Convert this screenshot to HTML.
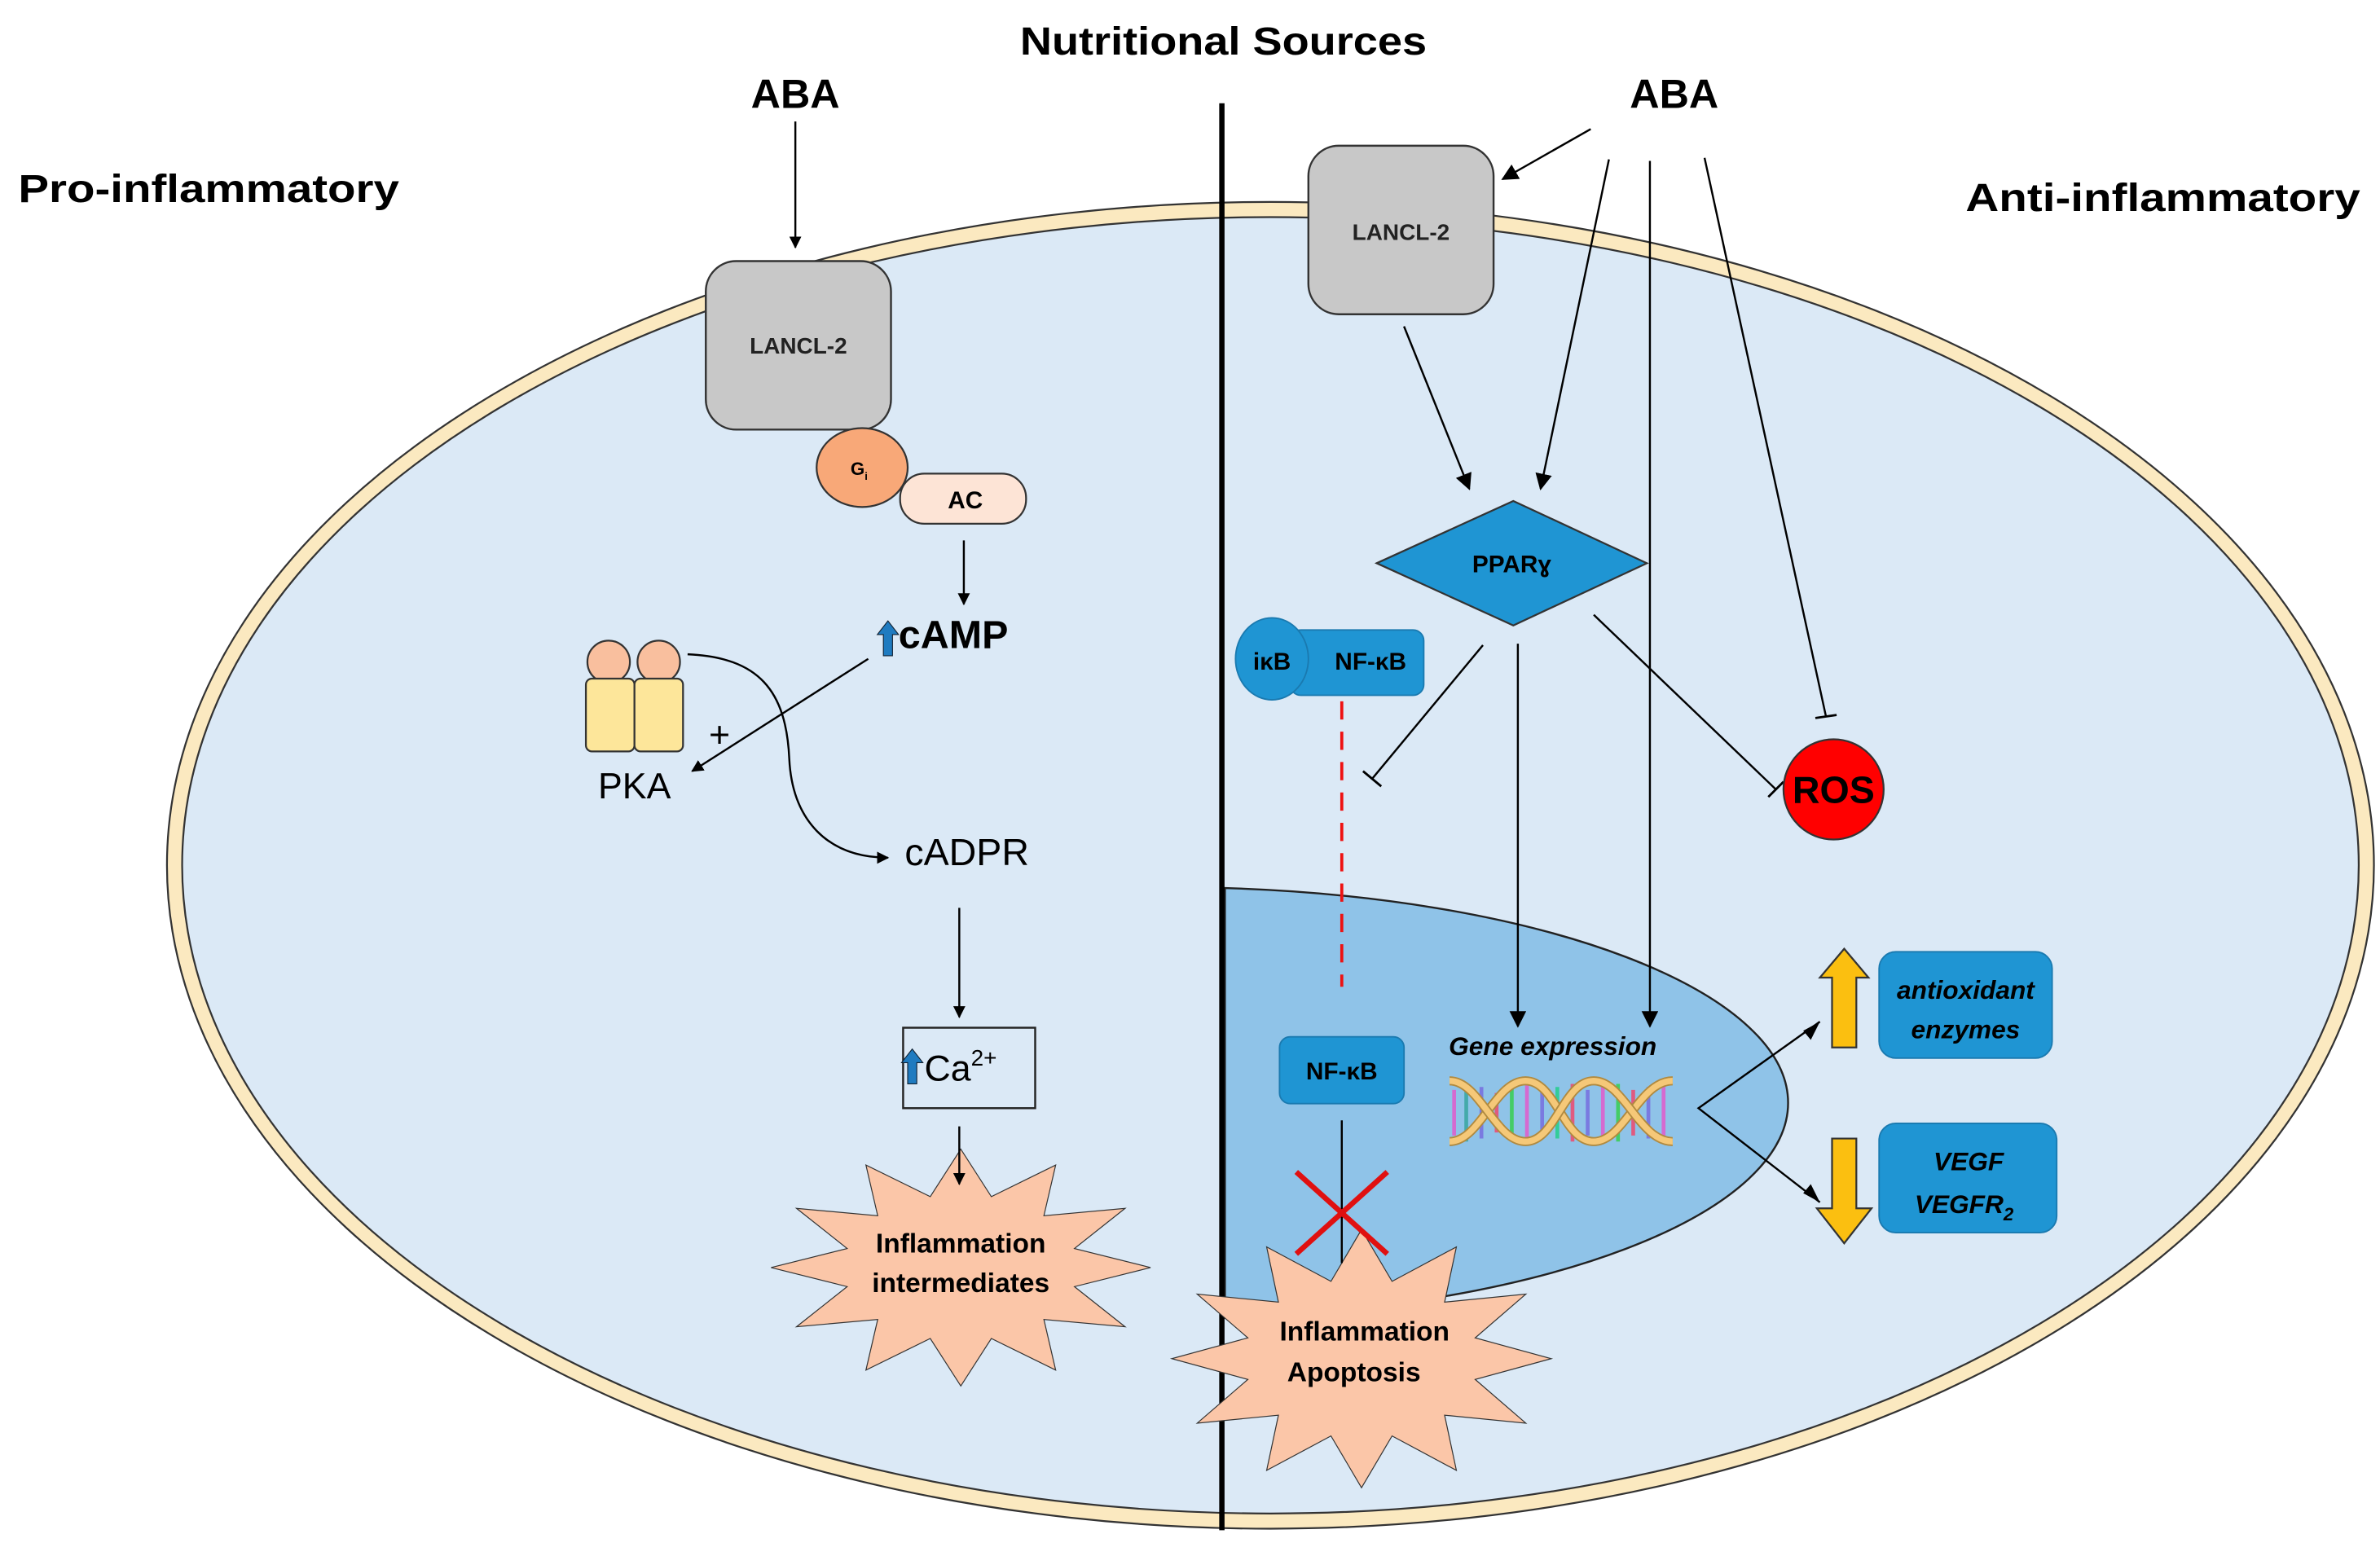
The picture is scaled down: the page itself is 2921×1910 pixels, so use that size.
<!DOCTYPE html>
<html><head><meta charset="utf-8"><style>
html,body{margin:0;padding:0;background:#fff;}
svg{display:block;}
text{font-family:"Liberation Sans","DejaVu Sans",sans-serif;}
</style></head><body>
<svg width="2921" height="1910" viewBox="0 0 1568 1025" preserveAspectRatio="none" xmlns="http://www.w3.org/2000/svg">
<defs>
<marker id="ah" viewBox="0 0 10 10" refX="9" refY="5" markerWidth="8" markerHeight="8" markerUnits="userSpaceOnUse" orient="auto"><path d="M0,0 L10,5 L0,10 z" fill="#000"/></marker>
<marker id="ahb" viewBox="0 0 10 10" refX="9" refY="5" markerWidth="11" markerHeight="11" markerUnits="userSpaceOnUse" orient="auto"><path d="M0,0 L10,5 L0,10 z" fill="#000"/></marker>
</defs>
<rect width="1568" height="1025" fill="#fff"/>
<!-- cell -->
<ellipse cx="837" cy="570" rx="727" ry="437" fill="#fbe9c0" stroke="#333" stroke-width="1.2"/>
<ellipse cx="837" cy="570" rx="717" ry="427" fill="#dbe9f6" stroke="#333" stroke-width="1.2"/>
<!-- nucleus -->
<path d="M807,585 A405,142 0 0 1 807,868 Z" fill="#8fc3e8" stroke="#222" stroke-width="1.3"/>
<!-- divider -->
<line x1="805" y1="68" x2="805" y2="1008" stroke="#000" stroke-width="3.5"/>

<!-- titles -->
<text x="672" y="36" font-size="26" font-weight="bold" textLength="268" lengthAdjust="spacingAndGlyphs">Nutritional Sources</text>
<text x="524" y="71" font-size="27" font-weight="bold" text-anchor="middle">ABA</text>
<text x="1103" y="71" font-size="27" font-weight="bold" text-anchor="middle">ABA</text>
<text x="12" y="133" font-size="26" font-weight="bold" textLength="251" lengthAdjust="spacingAndGlyphs">Pro-inflammatory</text>
<text x="1295" y="139" font-size="26" font-weight="bold" textLength="260" lengthAdjust="spacingAndGlyphs">Anti-inflammatory</text>

<!-- LEFT -->
<line x1="524" y1="80" x2="524" y2="163" stroke="#000" stroke-width="1.3" marker-end="url(#ah)"/>
<rect x="465" y="172" width="122" height="111" rx="20" fill="#c8c8c8" stroke="#333" stroke-width="1.3"/>
<text x="526" y="233" font-size="15" font-weight="bold" text-anchor="middle" fill="#222">LANCL-2</text>
<rect x="593" y="312" width="83" height="33" rx="16" fill="#fde4d6" stroke="#333" stroke-width="1.2"/>
<text x="636" y="335" font-size="16" font-weight="bold" text-anchor="middle">AC</text>
<ellipse cx="568" cy="308" rx="30" ry="26" fill="#f8a878" stroke="#333" stroke-width="1.2"/>
<text x="566" y="313" font-size="12" font-weight="bold" text-anchor="middle">G<tspan font-size="7" dy="3">i</tspan></text>
<line x1="635" y1="356" x2="635" y2="398" stroke="#000" stroke-width="1.3" marker-end="url(#ah)"/>
<path d="M582,432 v-14 h-4 l7,-9 l7,9 h-4 v14 z" fill="#1f7bc0" stroke="#123" stroke-width="0.6"/>
<text x="592" y="427" font-size="26" font-weight="bold">cAMP</text>
<!-- PKA -->
<circle cx="401" cy="436" r="14" fill="#f9bf9e" stroke="#333" stroke-width="1.2"/>
<circle cx="434" cy="436" r="14" fill="#f9bf9e" stroke="#333" stroke-width="1.2"/>
<rect x="386" y="447" width="32" height="48" rx="4" fill="#fde69a" stroke="#333" stroke-width="1.2"/>
<rect x="418" y="447" width="32" height="48" rx="4" fill="#fde69a" stroke="#333" stroke-width="1.2"/>
<text x="418" y="526" font-size="24" text-anchor="middle">PKA</text>
<text x="474" y="492" font-size="24" text-anchor="middle">+</text>
<line x1="572" y1="434" x2="456" y2="508" stroke="#000" stroke-width="1.3" marker-end="url(#ah)"/>
<path d="M453,431 C500,433 518,455 520,500 C522,540 545,565 585,565" fill="none" stroke="#000" stroke-width="1.3" marker-end="url(#ah)"/>
<text x="637" y="570" font-size="25" text-anchor="middle">cADPR</text>
<line x1="632" y1="598" x2="632" y2="670" stroke="#000" stroke-width="1.3" marker-end="url(#ah)"/>
<rect x="595" y="677" width="87" height="53" fill="none" stroke="#222" stroke-width="1.3"/>
<path d="M598,714 v-14 h-4 l7,-9 l7,9 h-4 v14 z" fill="#1f7bc0" stroke="#123" stroke-width="0.6"/>
<text x="609" y="712" font-size="24">Ca<tspan font-size="15" dy="-10">2+</tspan></text>
<g transform="translate(633,835) scale(125,78)">
<polygon points="1,0 .599,.161 .866,.5 .438,.438 .5,.866 .161,.599 0,1 -.161,.599 -.5,.866 -.438,.438 -.866,.5 -.599,.161 -1,0 -.599,-.161 -.866,-.5 -.438,-.438 -.5,-.866 -.161,-.599 0,-1 .161,-.599 .5,-.866 .438,-.438 .866,-.5 .599,-.161" fill="#fbc6a8" stroke="#333" stroke-width="1.2" vector-effect="non-scaling-stroke"/>
</g>
<line x1="632" y1="742" x2="632" y2="780" stroke="#000" stroke-width="1.3" marker-end="url(#ah)"/>
<text x="633" y="825" font-size="18" font-weight="bold" text-anchor="middle">Inflammation</text>
<text x="633" y="851" font-size="18" font-weight="bold" text-anchor="middle">intermediates</text>

<!-- RIGHT -->
<rect x="862" y="96" width="122" height="111" rx="20" fill="#c8c8c8" stroke="#333" stroke-width="1.3"/>
<text x="923" y="158" font-size="15" font-weight="bold" text-anchor="middle" fill="#222">LANCL-2</text>
<line x1="1048" y1="85" x2="990" y2="118" stroke="#000" stroke-width="1.3" marker-end="url(#ahb)"/>
<line x1="1060" y1="105" x2="1015" y2="322" stroke="#000" stroke-width="1.3" marker-end="url(#ahb)"/>
<line x1="925" y1="215" x2="968" y2="322" stroke="#000" stroke-width="1.3" marker-end="url(#ahb)"/>
<line x1="1087" y1="106" x2="1087" y2="676" stroke="#000" stroke-width="1.3" marker-end="url(#ahb)"/>
<line x1="1123" y1="104" x2="1203" y2="472" stroke="#000" stroke-width="1.3"/>
<line x1="1196" y1="473" x2="1210" y2="471" stroke="#000" stroke-width="1.5"/>
<polygon points="907,371 997,330 1085,371 997,412" fill="#1f95d3" stroke="#333" stroke-width="1.2"/>
<text x="996" y="377" font-size="16" font-weight="bold" text-anchor="middle">PPARɣ</text>
<line x1="977" y1="425" x2="904" y2="513" stroke="#000" stroke-width="1.3"/>
<line x1="898" y1="508" x2="910" y2="518" stroke="#000" stroke-width="1.5"/>
<line x1="1000" y1="424" x2="1000" y2="676" stroke="#000" stroke-width="1.3" marker-end="url(#ahb)"/>
<line x1="1050" y1="405" x2="1170" y2="520" stroke="#000" stroke-width="1.3"/>
<line x1="1165" y1="525" x2="1175" y2="515" stroke="#000" stroke-width="1.5"/>
<circle cx="1208" cy="520" r="33" fill="#ff0000" stroke="#333" stroke-width="1.2"/>
<text x="1208" y="529" font-size="25" font-weight="bold" text-anchor="middle">ROS</text>
<!-- IkB NF-kB -->
<rect x="850" y="415" width="88" height="43" rx="7" fill="#1f95d3" stroke="#1a7ab0" stroke-width="1"/>
<ellipse cx="838" cy="434" rx="24" ry="27" fill="#1f95d3" stroke="#1a7ab0" stroke-width="1"/>
<text x="838" y="441" font-size="16" font-weight="bold" text-anchor="middle">iκB</text>
<text x="903" y="441" font-size="16" font-weight="bold" text-anchor="middle">NF-κB</text>
<line x1="884" y1="462" x2="884" y2="650" stroke="#ee1111" stroke-width="2" stroke-dasharray="12,8"/>
<!-- nucleus contents -->
<rect x="843" y="683" width="82" height="44" rx="7" fill="#1f95d3" stroke="#1a7ab0" stroke-width="1"/>
<text x="884" y="711" font-size="16" font-weight="bold" text-anchor="middle">NF-κB</text>
<text x="1023" y="695" font-size="17" font-weight="bold" font-style="italic" text-anchor="middle">Gene expression</text>
<!-- DNA -->
<g stroke-width="2.5">
<line x1="958" y1="718" x2="958" y2="748" stroke="#d56ad0"/><line x1="966" y1="714" x2="966" y2="752" stroke="#4aa"/>
<line x1="976" y1="716" x2="976" y2="750" stroke="#7a7ae0"/><line x1="986" y1="720" x2="986" y2="746" stroke="#e05a80"/>
<line x1="996" y1="716" x2="996" y2="750" stroke="#4c6"/><line x1="1006" y1="714" x2="1006" y2="752" stroke="#d56ad0"/>
<line x1="1016" y1="718" x2="1016" y2="748" stroke="#7a7ae0"/><line x1="1026" y1="716" x2="1026" y2="750" stroke="#3c9"/>
<line x1="1036" y1="714" x2="1036" y2="752" stroke="#e05a80"/><line x1="1046" y1="718" x2="1046" y2="748" stroke="#7a7ae0"/>
<line x1="1056" y1="716" x2="1056" y2="750" stroke="#d56ad0"/><line x1="1066" y1="714" x2="1066" y2="752" stroke="#4c6"/>
<line x1="1076" y1="718" x2="1076" y2="748" stroke="#e05a80"/><line x1="1086" y1="716" x2="1086" y2="750" stroke="#7a7ae0"/>
<line x1="1096" y1="714" x2="1096" y2="750" stroke="#d56ad0"/>
</g>
<path d="M955,752 C975,752 985,712 1005,712 C1025,712 1030,752 1050,752 C1070,752 1080,712 1102,712" fill="none" stroke="#b08a40" stroke-width="6"/>
<path d="M955,752 C975,752 985,712 1005,712 C1025,712 1030,752 1050,752 C1070,752 1080,712 1102,712" fill="none" stroke="#f5c878" stroke-width="4"/>
<path d="M955,712 C975,712 985,752 1005,752 C1025,752 1030,712 1050,712 C1070,712 1080,752 1102,752" fill="none" stroke="#b08a40" stroke-width="6"/>
<path d="M955,712 C975,712 985,752 1005,752 C1025,752 1030,712 1050,712 C1070,712 1080,752 1102,752" fill="none" stroke="#f5c878" stroke-width="4"/>
<!-- output arrows -->
<polyline points="1199,673 1119,730 1199,792" fill="none" stroke="#000" stroke-width="1.3"/>
<path d="M1188,679 L1199,673 L1193,685 z" fill="#000"/>
<path d="M1188,786 L1199,792 L1193,780 z" fill="#000"/>
<path d="M1207,690 v-46 h-8 l16,-19 l16,19 h-8 v46 z" fill="#fbbf10" stroke="#333" stroke-width="1.2"/>
<path d="M1207,750 v46 h-10 l18,23 l18,-23 h-10 v-46 z" fill="#fbbf10" stroke="#333" stroke-width="1.2"/>
<rect x="1238" y="627" width="114" height="70" rx="11" fill="#1f95d3" stroke="#1a7ab0" stroke-width="1"/>
<text x="1295" y="658" font-size="17" font-weight="bold" font-style="italic" text-anchor="middle">antioxidant</text>
<text x="1295" y="684" font-size="17" font-weight="bold" font-style="italic" text-anchor="middle">enzymes</text>
<rect x="1238" y="740" width="117" height="72" rx="11" fill="#1f95d3" stroke="#1a7ab0" stroke-width="1"/>
<text x="1297" y="771" font-size="17" font-weight="bold" font-style="italic" text-anchor="middle">VEGF</text>
<text x="1294" y="799" font-size="17" font-weight="bold" font-style="italic" text-anchor="middle">VEGFR<tspan font-size="12" dy="5">2</tspan></text>
<!-- right star -->
<g transform="translate(897,895) scale(125,85)">
<polygon points="1,0 .599,.161 .866,.5 .438,.438 .5,.866 .161,.599 0,1 -.161,.599 -.5,.866 -.438,.438 -.866,.5 -.599,.161 -1,0 -.599,-.161 -.866,-.5 -.438,-.438 -.5,-.866 -.161,-.599 0,-1 .161,-.599 .5,-.866 .438,-.438 .866,-.5 .599,-.161" fill="#fbc6a8" stroke="#333" stroke-width="1.2" vector-effect="non-scaling-stroke"/>
</g>
<line x1="884" y1="738" x2="884" y2="832" stroke="#000" stroke-width="1.3"/>
<line x1="854" y1="772" x2="914" y2="826" stroke="#e01010" stroke-width="3.5"/>
<line x1="914" y1="772" x2="854" y2="826" stroke="#e01010" stroke-width="3.5"/>
<text x="899" y="883" font-size="18" font-weight="bold" text-anchor="middle">Inflammation</text>
<text x="892" y="910" font-size="18" font-weight="bold" text-anchor="middle">Apoptosis</text>
</svg>
</body></html>
